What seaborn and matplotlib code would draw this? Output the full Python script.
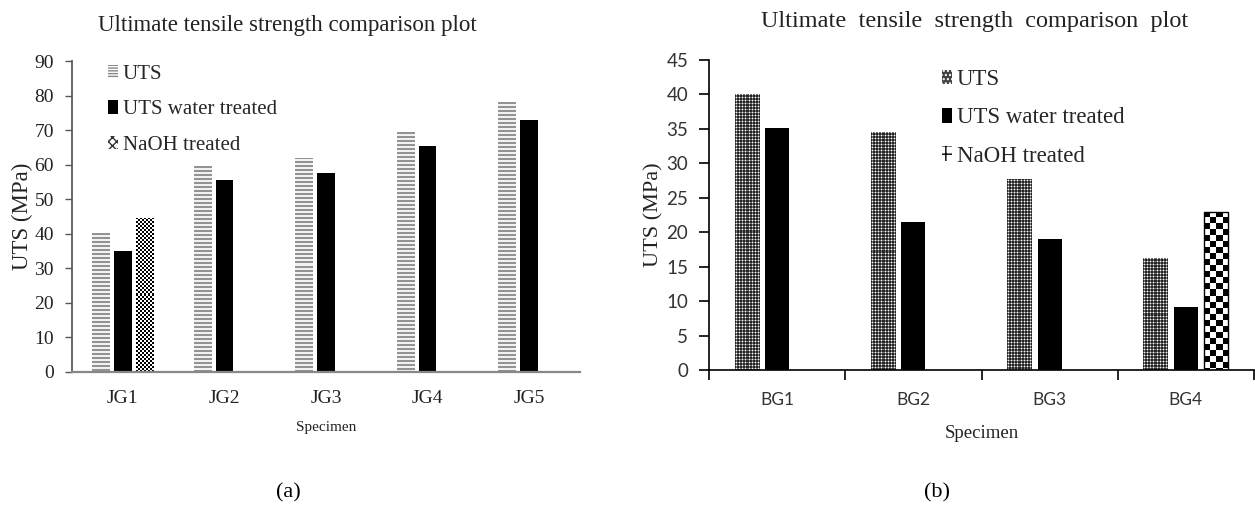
import numpy as np
import pandas as pd
import matplotlib
matplotlib.use("Agg")
import matplotlib.pyplot as plt
from matplotlib.patches import Patch
import seaborn as sns

# ---- data -------------------------------------------------------------
jute_specimens = ["JG1", "JG2", "JG3", "JG4", "JG5"]
jute_uts = [40.2, 59.5, 62.0, 69.4, 78.0]
jute_water = [34.9, 55.5, 57.6, 65.5, 72.8]
jute_naoh = [44.7, np.nan, np.nan, np.nan, np.nan]

banana_specimens = ["BG1", "BG2", "BG3", "BG4"]
banana_uts = [40.1, 34.6, 27.7, 16.3]
banana_water = [35.1, 21.5, 19.0, 9.1]
banana_naoh = [np.nan, np.nan, np.nan, 23.0]

series_names = ["UTS", "UTS water treated", "NaOH treated"]
title_words = ["Ultimate", "tensile", "strength", "comparison", "plot"]
x_label = "Specimen"
y_label = "UTS (MPa)"
panel_tags = ["(a)", "(b)"]


def long_frame(specimens, *columns):
    rows = []
    for name, values in zip(series_names, columns):
        for spec, v in zip(specimens, values):
            rows.append({"specimen": spec, "series": name, "value": v})
    return pd.DataFrame(rows)


jute_df = long_frame(jute_specimens, jute_uts, jute_water, jute_naoh)
banana_df = long_frame(banana_specimens, banana_uts, banana_water, banana_naoh)

sns.set_theme(style="white")
plt.rcParams["font.family"] = ["Liberation Serif", "DejaVu Serif"]
plt.rcParams["hatch.linewidth"] = 1.0

fig = plt.figure(figsize=(12.55, 5.13), dpi=100)
W, H = 1255, 513


def rect(x0, y0, x1, y1):
    return [x0 / W, 1 - y1 / H, (x1 - x0) / W, (y1 - y0) / H]


ax_a = fig.add_axes(rect(72, 61, 580, 372))
ax_b = fig.add_axes(rect(709, 60, 1254, 370))


# ---- textures drawn as images clipped to each bar --------------------
def stripes(xx, yy):
    g = np.where((yy % 4) < 2, 0.58, 0.95)
    return np.dstack([g, g, g])


def checker(cell):
    def paint(xx, yy):
        g = np.where(((xx // cell) + (yy // cell)) % 2 == 0, 0.0, 1.0)
        return np.dstack([g, g, g])
    return paint


def dots(xx, yy):
    cx = (xx % 3) == 1
    cy = (yy % 3) == 1
    g = np.full(xx.shape, 0.15)
    g[cx ^ cy] = 0.45
    g[cx & cy] = 1.0
    return np.dstack([g, g, g])


def texture_bars(ax, patches, painter, outline=None):
    for p in patches:
        bb = p.get_bbox()
        (px0, py0), (px1, py1) = ax.transData.transform([[bb.x0, bb.y0], [bb.x1, bb.y1]])
        w = max(int(round(abs(px1 - px0))), 1)
        h = max(int(round(abs(py1 - py0))), 1)
        yy, xx = np.mgrid[0:h, 0:w]
        img = painter(xx, yy)
        z = p.get_zorder()
        im = ax.imshow(img, extent=(bb.x0, bb.x1, bb.y0, bb.y1), origin="upper",
                       interpolation="nearest", aspect="auto", zorder=z)
        im.set_clip_path(p)
        p.set_facecolor("none")
        p.set_zorder(z + 0.1)
        if outline is None:
            p.set_linewidth(0)
        else:
            p.set_edgecolor(outline)
            p.set_linewidth(1.0)


def draw_panel(ax, df, ymax, ystep, width, gap):
    sns.barplot(data=df, x="specimen", y="value", hue="series", hue_order=series_names,
                palette=["white", "black", "white"], width=width, gap=gap,
                errorbar=None, legend=False, ax=ax, linewidth=0)
    n = df["specimen"].nunique()
    ax.set_xlim(-0.5, n - 0.5)
    ax.set_ylim(0, ymax)
    ax.set_yticks(np.arange(0, ymax + 0.1, ystep))
    for s in ["top", "right"]:
        ax.spines[s].set_visible(False)
    ax.set_xlabel("")
    ax.set_ylabel("")
    return ax.containers


# ---- panel (a) --------------------------------------------------------
cont_a = draw_panel(ax_a, jute_df, 90, 10, 0.65, 0.2)
texture_bars(ax_a, cont_a[0].patches, stripes)
texture_bars(ax_a, cont_a[2].patches, checker(2))
ax_a.set_xlim(-0.5, len(jute_specimens) - 0.5)
ax_a.set_ylim(0, 90)
ax_a.spines["left"].set_color("#555555")
ax_a.spines["bottom"].set_color("#888888")
ax_a.spines["bottom"].set_linewidth(1.6)
ax_a.tick_params(axis="y", length=5, width=1, color="#555555", pad=8,
                 labelsize=14, labelcolor="#222222", left=True)
ax_a.tick_params(axis="x", length=0, pad=13, labelsize=14, labelcolor="#222222")
ax_a.set_xlabel(x_label, fontsize=11, color="#222222", labelpad=10)
ax_a.set_ylabel(y_label, fontsize=16.5, color="#222222", labelpad=1)

legend_a = [
    Patch(facecolor="white", edgecolor="#888888", hatch="------", linewidth=0),
    Patch(facecolor="black", edgecolor="black", linewidth=0),
    Patch(facecolor="white", edgecolor="#333333", hatch="xxxx", linewidth=0),
]
ax_a.legend(legend_a, series_names, loc="upper left", bbox_to_anchor=(0.055, 1.015),
            frameon=False, fontsize=15, handlelength=0.45, handleheight=0.6,
            handletextpad=0.25, labelspacing=0.8, borderaxespad=0)

# ---- panel (b) --------------------------------------------------------
cont_b = draw_panel(ax_b, banana_df, 45, 5, 0.67, 0.21)
texture_bars(ax_b, cont_b[0].patches, dots)
texture_bars(ax_b, cont_b[2].patches, checker(6), outline="black")
nb = len(banana_specimens)
ax_b.set_xlim(-0.5, nb - 0.5)
ax_b.set_ylim(0, 45)
ax_b.set_xticks(np.arange(-0.5, nb, 1.0), labels=[])
ax_b.set_xticks(np.arange(nb), labels=banana_specimens, minor=True)
for s in ["left", "bottom"]:
    ax_b.spines[s].set_color("black")
    ax_b.spines[s].set_linewidth(1.2)
ax_b.tick_params(axis="y", length=7, width=1.2, color="black", pad=8,
                 labelsize=13.5, labelcolor="#333333", left=True, labelfontfamily="Lato")
ax_b.tick_params(axis="x", which="major", length=7, width=1.2, color="black", bottom=True)
ax_b.tick_params(axis="x", which="minor", length=0, pad=16, labelsize=12.5,
                 labelcolor="#333333", labelfontfamily="Lato", bottom=True)
ax_b.set_xlabel(x_label, fontsize=13.5, color="#222222", labelpad=12)
ax_b.set_ylabel(y_label, fontsize=16, color="#222222", labelpad=2)

legend_b = [
    Patch(facecolor="#444444", edgecolor="white", hatch="....", linewidth=0),
    Patch(facecolor="black", edgecolor="black", linewidth=0),
    Patch(facecolor="white", edgecolor="black", hatch="++", linewidth=0),
]
ax_b.legend(legend_b, series_names, loc="upper left", bbox_to_anchor=(0.41, 1.0),
            frameon=False, fontsize=16.5, handlelength=0.45, handleheight=0.6,
            handletextpad=0.2, labelspacing=0.75, borderaxespad=0)

# ---- titles and panel tags ---------------------------------------------
fig.text(287 / W, 1 - 25 / H, " ".join(title_words), ha="center", va="center",
         fontsize=16.5, color="#222222")
fig.text(975 / W, 1 - 22 / H, "  ".join(title_words), ha="center", va="center",
         fontsize=17.5, color="#222222")
fig.text(288 / W, 1 - 493 / H, panel_tags[0], ha="center", va="center", fontsize=16, color="black")
fig.text(937 / W, 1 - 493 / H, panel_tags[1], ha="center", va="center", fontsize=16, color="black")

fig.savefig("out.png", dpi=100, facecolor="white")
